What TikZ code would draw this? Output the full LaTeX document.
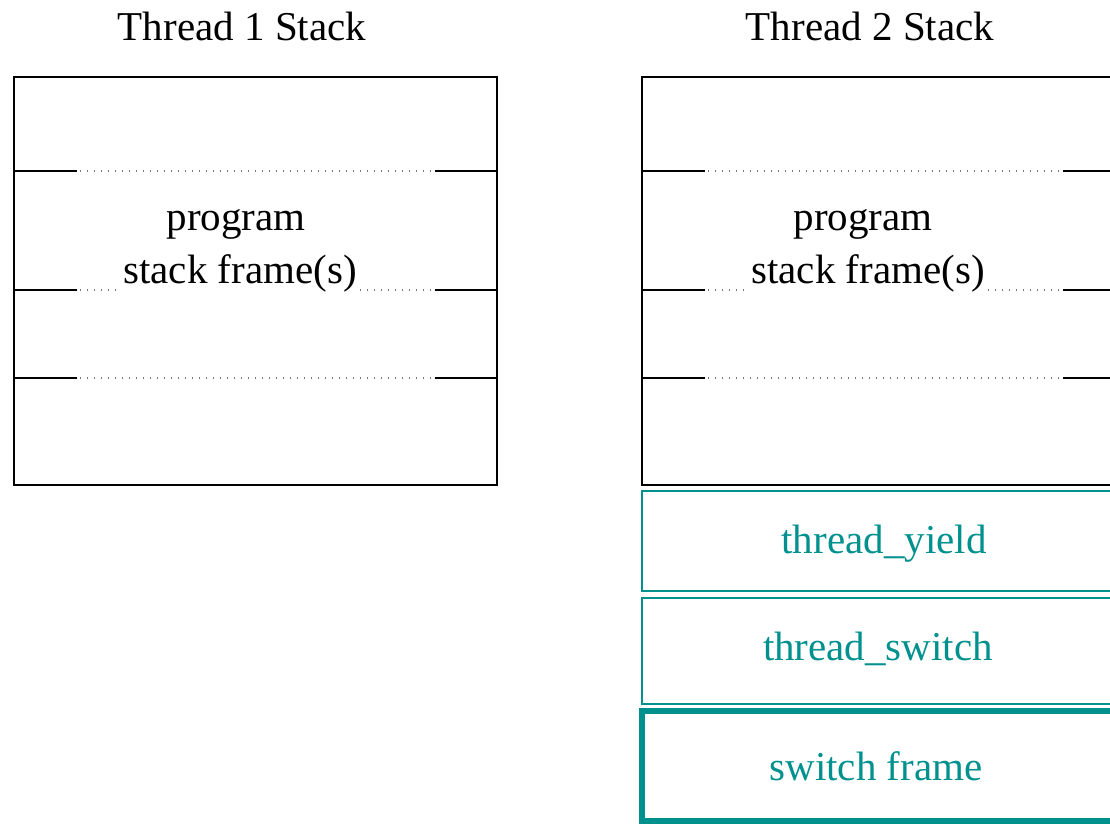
\documentclass[tikz,border=0pt]{standalone}
\usepackage{fontspec}
\setmainfont{Liberation Serif}
\definecolor{tealc}{RGB}{0,145,143}
\definecolor{dotc}{RGB}{120,120,120}
\begin{document}
\begin{tikzpicture}[x=1pt,y=-1pt,
  font=\fontsize{41}{49}\selectfont,
  stackbox/.style={draw=black,line width=2pt,inner sep=0pt,outer sep=0pt,anchor=north west},
  tealbox/.style={draw=tealc,line width=2pt,inner sep=0pt,outer sep=0pt,anchor=north west},
  thickteal/.style={draw=tealc,line width=6pt,inner sep=0pt,outer sep=0pt,anchor=north west},
  solidseg/.style={draw=black,line width=2pt},
  dotseg/.style={draw=dotc,line width=1.4pt,dash pattern=on 1.4pt off 5.6pt},
  label/.style={anchor=base,inner sep=0pt},
  tlabel/.style={anchor=base,inner sep=0pt,text=tealc},
  boxtext/.style={anchor=base,inner sep=1.5pt,fill=white}]
\useasboundingbox (0,0) rectangle (1110,825);
\clip (0,0) rectangle (1110,825);
% titles
\node[label] (t1) at (242,40) {Thread 1 Stack};
\node[label] (t2) at (870,40) {Thread 2 Stack};
% stack boxes
\node[stackbox,minimum width=483pt,minimum height=408pt] (s1) at (14,77) {};
\node[stackbox,minimum width=483pt,minimum height=408pt] (s2) at (642,77) {};
% dividers
\foreach \yy in {171,290,378}{
  \draw[solidseg] (14,\yy) -- (77,\yy);
  \draw[dotseg] (80,\yy) -- (433,\yy);
  \draw[solidseg] (435,\yy) -- (497,\yy);
  \draw[solidseg] (642,\yy) -- (705,\yy);
  \draw[dotseg] (708,\yy) -- (1061,\yy);
  \draw[solidseg] (1063,\yy) -- (1125,\yy);
}
% texts in stacks
\node[boxtext] (p1) at (236,230) {program};
\node[boxtext] (f1) at (240,283) {stack frame(s)};
\node[boxtext] (p2) at (863,230) {program};
\node[boxtext] (f2) at (868,283) {stack frame(s)};
% teal boxes
\node[tealbox,minimum width=483pt,minimum height=100pt] (y2) at (642,491) {};
\node[tealbox,minimum width=483pt,minimum height=106pt] (w2) at (642,598) {};
\node[thickteal,minimum width=483pt,minimum height=110pt] (f3) at (642,711) {};
\node[tlabel] (ly) at (884,553) {thread\_yield};
\node[tlabel] (lw) at (878,660) {thread\_switch};
\node[tlabel] (lf) at (876,780) {switch frame};
\end{tikzpicture}
\end{document}
